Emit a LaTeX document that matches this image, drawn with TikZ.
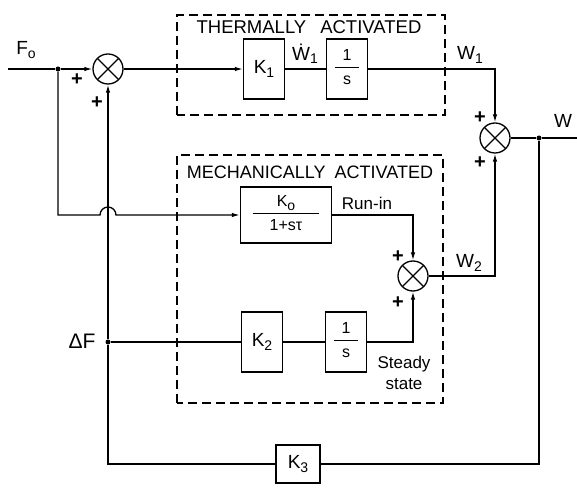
\documentclass[tikz,border=0pt]{standalone}
\usepackage{fontspec}
\setmainfont{Liberation Sans}
\usetikzlibrary{arrows.meta}

% fraction inside a block
\newcommand\fr[3][8pt]{{\fontsize{16}{18}\selectfont\begin{tabular}{@{\hspace{#1}}c@{\hspace{#1}}}#2\\[1pt]\hline\rule{0pt}{17pt}#3\end{tabular}}}
% lowered index
\newcommand\idx[1]{\raisebox{-3.5pt}{\fontsize{14}{14}\selectfont #1}}

\tikzset{
  sig/.style={line width=1.3pt},
  sigarrow/.style={sig, -{Latex[length=8pt,width=4.5pt]}},
  blk/.style={draw, line width=1.3pt, minimum width=41, minimum height=60, inner sep=0pt},
  sumj/.style={draw, circle, line width=1.3pt, minimum size=30, inner sep=0pt,
    path picture={\draw[line width=1.3pt]
      (path picture bounding box.north west) -- (path picture bounding box.south east)
      (path picture bounding box.north east) -- (path picture bounding box.south west);}},
  tapdot/.style={circle, fill, inner sep=0pt, minimum size=5},
  zone/.style={line width=1.3pt, dash pattern=on 9pt off 5pt},
  title/.style={font=\fontsize{18.5}{20}\selectfont},
  small/.style={font=\fontsize{17}{21}\selectfont},
  sign/.style={font=\fontsize{20}{20}\selectfont\bfseries},
}

\begin{document}
\begin{tikzpicture}[x=1pt, y=1pt, font=\fontsize{19}{21}\selectfont]
        \useasboundingbox (0,0) rectangle (577,487);

        % Dashed zones
        \draw[zone] (177,372) rectangle (445,472);
        \draw[zone] (177,84) rectangle (443,332);
        \node[title] (tzone) at (309,460) {THERMALLY\hspace{14pt}ACTIVATED};
        \node[title, font=\fontsize{18}{20}\selectfont] (mzone) at (310,315) {MECHANICALLY\hspace{9pt}ACTIVATED};

        % Blocks and junctions
        \coordinate (fin) at (8,418);
        \node[tapdot] (j1) at (58,418) {};
        \node[sumj] (s1) at (108,418) {};
        \node[blk] (k1) at (264,418) {K\idx{1}};
        \node[blk] (i1) at (347,418) {\fr{1}{s}};
        \node[sumj] (s2) at (495,349) {};
        \node[tapdot] (jw) at (539,349) {};
        \coordinate (wout) at (577,349);
        \node[blk, minimum width=91, minimum height=56] (k0) at (286,272) {\fr[17pt]{K\idx{o}}{1+sτ}};
        \node[sumj] (s3) at (413,211) {};
        \node[tapdot] (jf) at (108,145) {};
        \node[blk] (k2) at (262,145) {K\idx{2}};
        \node[blk] (i2) at (346,145) {\fr{1}{s}};
        \node[blk, minimum width=44, minimum height=38] (k3) at (298,23) {K\idx{3}};
        \coordinate (hop) at (jf |- k0);

        % Signal lines
        \draw[sig] (fin) -- (j1);
        \draw[sigarrow] (j1) -- (s1);
        \draw[sigarrow] (s1) -- (k1);
        \draw[sig] (k1) -- (i1);
        \draw[sigarrow] (i1) -| (s2);
        \draw[sig] (s2) -- (jw) -- (wout);
        \draw[sigarrow] (j1) |- ([xshift=-8pt]hop) arc[start angle=180, end angle=0, radius=8pt] -- (k0);
        \draw[sigarrow] (k0) -| (s3);
        \draw[sigarrow] (s3) -| (s2);
        \draw[sig] (jf) -- (k2);
        \draw[sig] (k2) -- (i2);
        \draw[sigarrow] (i2) -| (s3);
        \draw[sigarrow] (jf) -- (s1);
        \draw[sig] (jf) |- (k3);
        \draw[sig] (k3) -| (jw);

        % Labels
        \node (lfo) at (26,437) {F\idx{o}};
        \node[sign] (p1) at (77,407) {+};
        \node[sign] (p2) at (97,384) {+};
        \node (lwd) at (305,433) {\.W\idx{1}};
        \node (lw1) at (470,432) {W\idx{1}};
        \node (lw) at (563,366) {W};
        \node[sign] (p3) at (480,369) {+};
        \node[sign] (p4) at (480,324) {+};
        \node[small] (lrun) at (367,284) {Run-in};
        \node[sign] (p5) at (398,230) {+};
        \node[sign] (p6) at (398,184) {+};
        \node (lw2) at (469,224) {W\idx{2}};
        \node[small, align=center] (lss) at (404,114) {Steady\\state};
        \node[font=\fontsize{21}{21}\selectfont] (ldf) at (82,146) {ΔF};

\end{tikzpicture}
\end{document}
